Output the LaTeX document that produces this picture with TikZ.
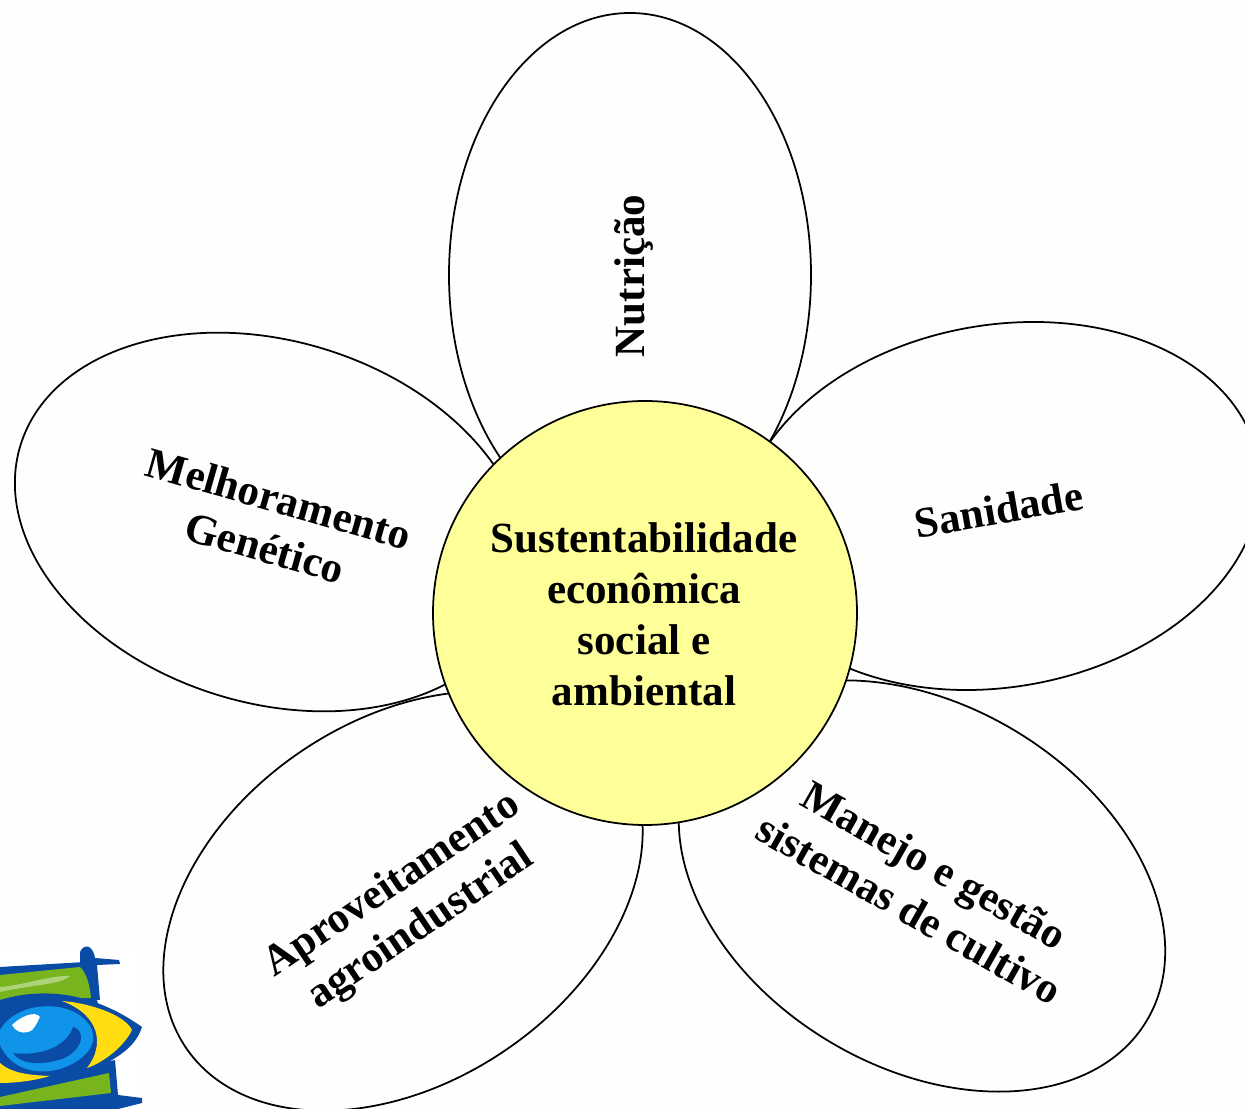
\documentclass[tikz,border=0pt]{standalone}
\usepackage{fontspec}
\setmainfont{Liberation Serif}
\usetikzlibrary{shapes.geometric}
\definecolor{paper}{HTML}{FEFEFC}
\definecolor{centro}{HTML}{FFFF99}
\definecolor{logoblue}{HTML}{0A4BA6}
\definecolor{logosky}{HTML}{0F94EA}
\definecolor{logogreen}{HTML}{78B41E}
\definecolor{logoyellow}{HTML}{FFDD10}
\tikzset{
  {petal/.style} ={draw,ellipse,line width=1pt,inner sep=0,outer sep=0,
                   minimum width=10.48cm,minimum height=7.24cm},
  {center point/.style} ={draw,circle,line width=1pt,fill=centro,inner sep=0,outer sep=0,
                   minimum size=8.48cm},
  {label/.style} ={font=\fontsize{24.5}{29}\selectfont\bfseries,align=center,inner sep=0},
 }
\begin{document}
\begin{tikzpicture}[x=0.2mm,y=-0.2mm]
\useasboundingbox (0,0) rectangle (1245,1109);
\fill[paper] (0,0) rectangle (1245,1109);
% petals
\node[petal,rotate=90] (N) at (630,275) {};
\node[petal,rotate=10] (S) at (1000,506) {};
\node[petal,rotate=-17] (M) at (271,522) {};
\node[petal,rotate=-31] (G) at (922,886) {};
\node[petal,rotate=34] (A) at (403,901) {};
% logo
\fill[white] (0,945) rectangle (142,1109);
\fill[logoblue] (80,1000) -- (80,952) .. controls (84,943) and (93,945) .. (95,958)
  -- (119,960) -- (120,964) -- (97,965) -- (100,1000) -- cycle;
\fill[logoblue] (0,967) -- (85,962) -- (100,1010) -- (0,1010) -- cycle;
\fill[logogreen] (0,975) -- (80,967) .. controls (86,972) and (90,985) .. (91,998)
  -- (0,1000) -- cycle;
\fill[logogreen!60!white] (0,987) .. controls (25,985) and (50,975) .. (70,976)
  .. controls (60,985) and (30,985) .. (0,992) -- cycle;
\fill[logoblue] (0,1109) -- (0,1085) -- (115,1060) -- (118,1095) -- (142,1098)
  -- (142,1103) -- (118,1109) -- cycle;
\fill[logogreen] (0,1097) -- (109,1073) -- (111,1093) -- (0,1106) -- cycle;
\fill[logoblue] (0,1000) .. controls (40,988) and (90,990) .. (142,1027)
  .. controls (135,1050) and (110,1065) .. (60,1082) .. controls (40,1088) and (15,1090) .. (0,1090) -- cycle;
\fill[logoyellow] (62,1001) .. controls (90,1003) and (125,1015) .. (132,1030)
  .. controls (125,1045) and (105,1062) .. (87,1068) .. controls (105,1045) and (100,1015) .. (62,1001) -- cycle;
\fill[logoyellow] (0,1063) .. controls (10,1072) and (25,1075) .. (50,1076)
  .. controls (30,1082) and (10,1083) .. (0,1083) -- cycle;
\fill[logosky] (0,1030) .. controls (15,1003) and (62,999) .. (83,1018)
  .. controls (103,1035) and (93,1058) .. (60,1069) .. controls (35,1076) and (10,1068) .. (0,1045) -- cycle;
\fill[logoblue] (13,1053) .. controls (35,1056) and (65,1050) .. (73,1027)
  .. controls (86,1030) and (84,1050) .. (62,1059) .. controls (40,1066) and (20,1064) .. (13,1053) -- cycle;
\fill[white] (12,1025) .. controls (20,1017) and (35,1010) .. (40,1017)
  .. controls (36,1024) and (35,1030) .. (28,1032) .. controls (22,1034) and (15,1031) .. (12,1025) -- cycle;
% center
\node[center point] (C) at (645,613) {};
\node[label] (ct) at (644,614) {Sustentabilidade\\econômica\\social e\\ambiental};
\node[label,rotate=90] (Nt) at (634,276) {Nutrição};
\node[label,rotate=10] (St) at (999,509) {Sanidade};
\node[label,rotate=-16] (Mt) at (272,523) {Melhoramento\\Genético};
\node[label,rotate=-29.5] (Gt) at (922,887) {Manejo e gestão\\sistemas de cultivo};
\node[label,rotate=34] (At) at (407,907) {Aproveitamento\\agroindustrial};
\end{tikzpicture}
\end{document}
